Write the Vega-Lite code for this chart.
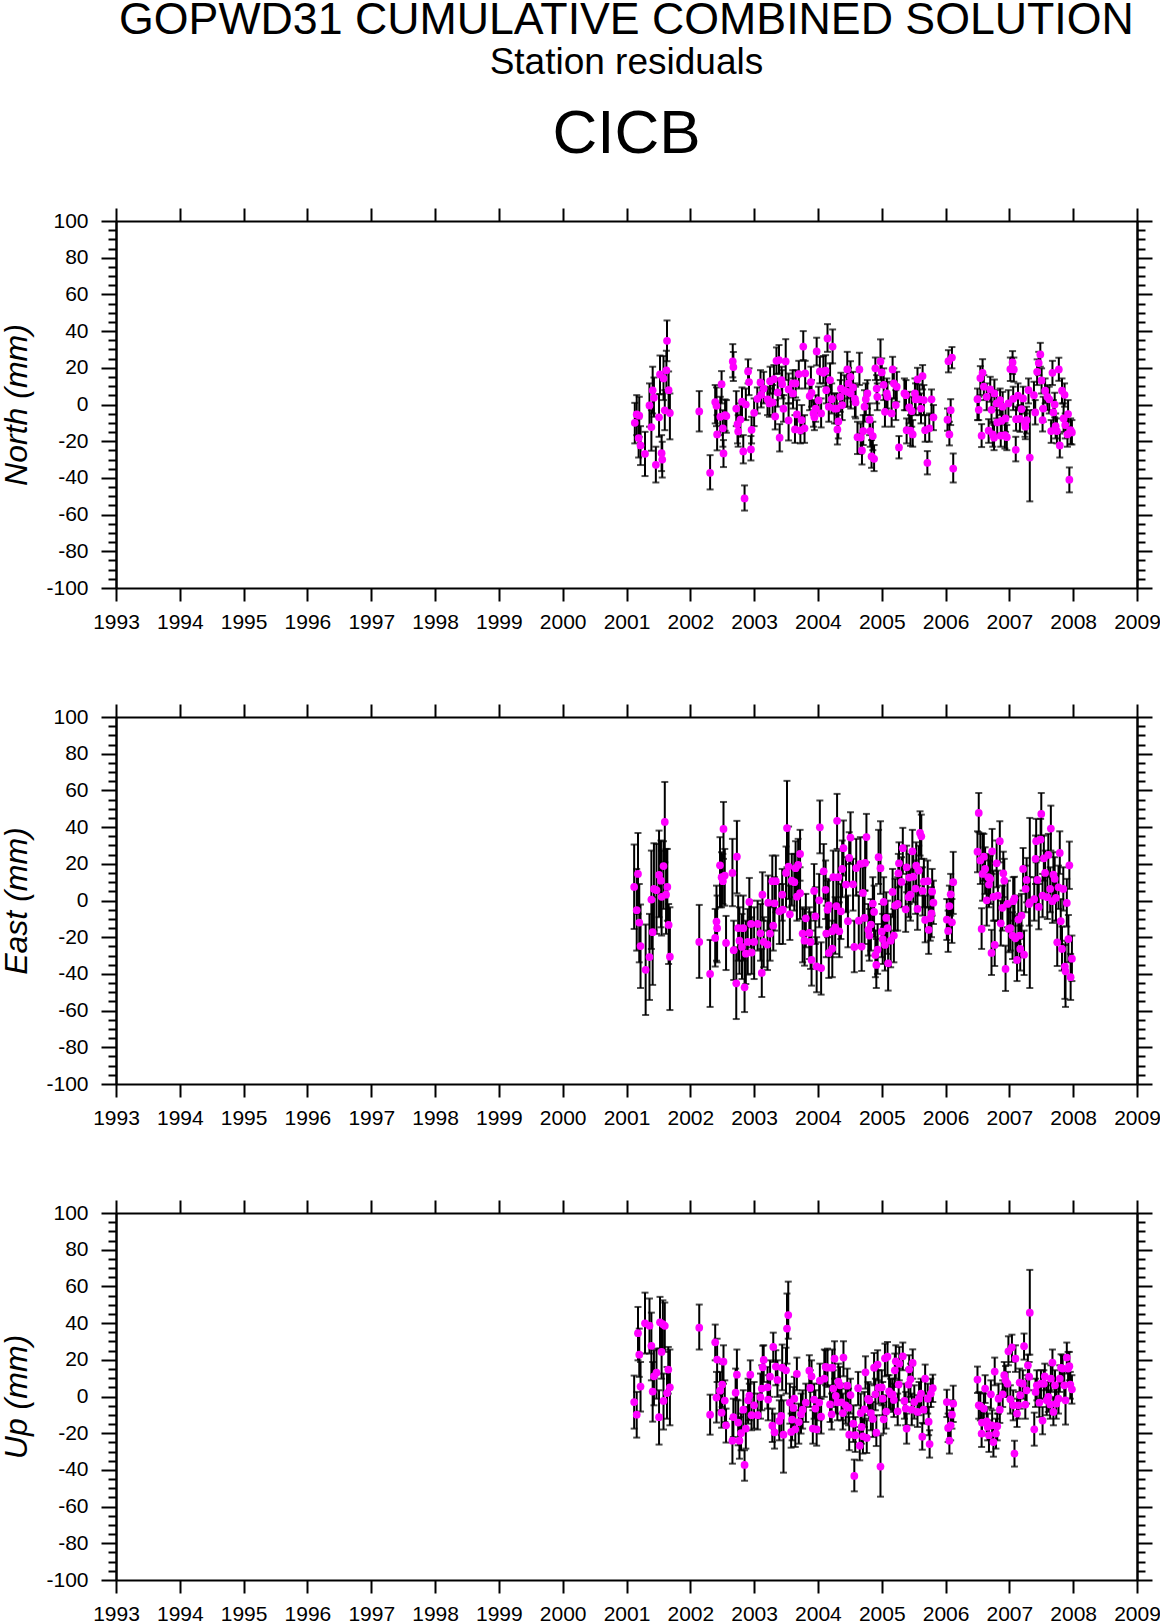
{
"$schema":"https://vega.github.io/schema/vega-lite/v6.json",
"background":"white",
"padding":{"left":0,"top":-2,"right":0,"bottom":0},
"bounds":"flush",
"spacing":129,
"title":{"text":"GOPWD31 CUMULATIVE COMBINED SOLUTION","subtitle":"Station residuals","font":"Liberation Sans","fontSize":44.7,"fontWeight":"normal","subtitleFont":"Liberation Sans","subtitleFontSize":37,"subtitlePadding":1,"anchor":"middle","dx":46,"offset":21,"color":"black","subtitleColor":"black"},
"config":{"view":{"stroke":null},"axis":{"grid":false,"domainColor":"black","domainWidth":2,"tickColor":"black","tickWidth":2,"labelFont":"Liberation Sans","labelFontSize":21,"labelColor":"black","titleFont":"Liberation Sans","titleFontSize":32,"titleFontStyle":"italic","titleFontWeight":"normal","titleColor":"black"}},
"datasets":{
"north":[
{"t":2001.13,"v":-10,"lo":-21.2,"hi":0.9},{"t":2001.16,"v":-5.4,"lo":-16.7,"hi":5.1},{"t":2001.2,"v":-6.1,"lo":-17.6,"hi":4.2},{"t":2001.19,"v":-18.3,"lo":-28.9,"hi":-7.6},{"t":2001.22,"v":-22.3,"lo":-33,"hi":-11.8},{"t":2001.29,"v":-26.9,"lo":-39,"hi":-14.9},{"t":2001.36,"v":-0.5,"lo":-12.1,"hi":11.5},{"t":2001.39,"v":-12.3,"lo":-25.2,"hi":-3.1},{"t":2001.41,"v":7.7,"lo":-4.9,"hi":20.6},{"t":2001.43,"v":3.7,"lo":-6.7,"hi":14.7},{"t":2001.46,"v":-32.9,"lo":-42.5,"hi":-23},{"t":2001.51,"v":-7,"lo":-17.6,"hi":5.5},{"t":2001.525,"v":16.4,"lo":5.7,"hi":26.7},{"t":2001.55,"v":-26.5,"lo":-36.3,"hi":-16.7},{"t":2001.56,"v":-30,"lo":-39.8,"hi":-20.3},{"t":2001.58,"v":14.2,"lo":2.4,"hi":26.4},{"t":2001.6,"v":-3.2,"lo":-14,"hi":7.8},{"t":2001.625,"v":18.6,"lo":7.8,"hi":29.3},{"t":2001.635,"v":34.7,"lo":23.6,"hi":45.8},{"t":2001.66,"v":7.8,"lo":-3.1,"hi":18},{"t":2001.68,"v":-4.7,"lo":-19,"hi":6},
{"t":2002.14,"v":-3.8,"lo":-14.7,"hi":7.3},{"t":2002.31,"v":-37.2,"lo":-46.3,"hi":-27.6},{"t":2002.39,"v":1.3,"lo":-10.3,"hi":10.6},{"t":2002.41,"v":-0.7,"lo":-11.8,"hi":9.3},{"t":2002.42,"v":-16.3,"lo":-25,"hi":-5.8},{"t":2002.47,"v":-6.7,"lo":-16.7,"hi":4.2},{"t":2002.49,"v":11.1,"lo":0.6,"hi":18.2},{"t":2002.51,"v":-13,"lo":-23,"hi":-3.1},{"t":2002.52,"v":-26.7,"lo":-34.1,"hi":-19.4},{"t":2002.545,"v":-5.8,"lo":-14.3,"hi":2.8},{"t":2002.565,"v":-6.3,"lo":-15.4,"hi":2.4},{"t":2002.665,"v":23.5,"lo":14.8,"hi":32.9},{"t":2002.675,"v":20.4,"lo":12.8,"hi":28.6},{"t":2002.72,"v":-2.2,"lo":-11.8,"hi":7.3},{"t":2002.74,"v":-10.7,"lo":-21.2,"hi":-2.2},{"t":2002.75,"v":-14.7,"lo":-23,"hi":-5.8},{"t":2002.785,"v":-8.2,"lo":-17.6,"hi":0.6},{"t":2002.81,"v":1.5,"lo":-7.8,"hi":9.3},{"t":2002.83,"v":-25.6,"lo":-32.1,"hi":-16.7},{"t":2002.85,"v":-51.2,"lo":-57.8,"hi":-44.1},{"t":2002.87,"v":0,"lo":-8.5,"hi":8.7},{"t":2002.905,"v":18,"lo":11.5,"hi":24.6},{"t":2002.92,"v":12.2,"lo":5.1,"hi":19.7},{"t":2002.95,"v":-24.5,"lo":-30.5,"hi":-17.2},{"t":2002.96,"v":-13.8,"lo":-21.2,"hi":-6.7},{"t":2003,"v":-4.5,"lo":-11.8,"hi":3.3},{"t":2003.05,"v":3.1,"lo":-4.9,"hi":9.3},{"t":2003.1,"v":12,"lo":5.1,"hi":18.7},{"t":2003.11,"v":5.3,"lo":-1.6,"hi":13.3},{"t":2003.15,"v":8.7,"lo":0.6,"hi":17.8},{"t":2003.21,"v":2.8,"lo":-5.8,"hi":9.7},{"t":2003.24,"v":0.6,"lo":-6.7,"hi":8.7},{"t":2003.25,"v":12.7,"lo":6,"hi":20.6},{"t":2003.29,"v":1.1,"lo":-5.8,"hi":10.6},{"t":2003.31,"v":13.8,"lo":6,"hi":21.5},{"t":2003.33,"v":-6.5,"lo":-13.6,"hi":2.4},{"t":2003.35,"v":23.8,"lo":16.6,"hi":31.1},{"t":2003.37,"v":6.6,"lo":-1.2,"hi":14.2},{"t":2003.39,"v":24.2,"lo":16.9,"hi":32.4},{"t":2003.4,"v":-18.1,"lo":-25.6,"hi":-10.7},{"t":2003.43,"v":13.3,"lo":5.1,"hi":20.6},{"t":2003.44,"v":11.1,"lo":3.3,"hi":18.7},{"t":2003.46,"v":-2.3,"lo":-9.4,"hi":5.1},{"t":2003.495,"v":23.5,"lo":13.3,"hi":35.6},{"t":2003.54,"v":-8.7,"lo":-19.6,"hi":0.6},{"t":2003.54,"v":8.2,"lo":0.6,"hi":16.9},{"t":2003.61,"v":6,"lo":-2.2,"hi":14.2},{"t":2003.605,"v":11.5,"lo":3.8,"hi":18.7},{"t":2003.64,"v":-13.6,"lo":-20.9,"hi":-5.8},{"t":2003.65,"v":11.5,"lo":3.8,"hi":18.7},{"t":2003.67,"v":-5.4,"lo":-13,"hi":2.4},{"t":2003.7,"v":16.6,"lo":8.7,"hi":23.8},{"t":2003.725,"v":-14.1,"lo":-21.2,"hi":-6.7},{"t":2003.745,"v":-8.5,"lo":-15.8,"hi":-0.3},{"t":2003.77,"v":31.6,"lo":24.2,"hi":40},{"t":2003.79,"v":-13,"lo":-20.9,"hi":-5.8},{"t":2003.8,"v":16.9,"lo":8.7,"hi":23.8},{"t":2003.87,"v":4.6,"lo":-3.1,"hi":11.5},{"t":2003.89,"v":12.2,"lo":5.1,"hi":20.6},{"t":2003.9,"v":6.4,"lo":-1.2,"hi":13.3},{"t":2003.93,"v":-4.9,"lo":-12.1,"hi":2.4},{"t":2003.945,"v":-7,"lo":-14,"hi":1.5},{"t":2003.965,"v":-2.2,"lo":-9.4,"hi":5.1},{"t":2003.98,"v":28.9,"lo":21.3,"hi":36.4},{"t":2004.01,"v":2.2,"lo":-4.9,"hi":9.7},{"t":2004.03,"v":18,"lo":11.5,"hi":26},{"t":2004.05,"v":-4.9,"lo":-12.5,"hi":3.3},{"t":2004.085,"v":17.3,"lo":11.5,"hi":26.4},{"t":2004.12,"v":18.4,"lo":10,"hi":26.9},{"t":2004.13,"v":7.8,"lo":0.6,"hi":16},{"t":2004.15,"v":36,"lo":28.7,"hi":43.8},{"t":2004.17,"v":-1.2,"lo":-9.4,"hi":7.8},{"t":2004.19,"v":13.3,"lo":6,"hi":22.4},{"t":2004.23,"v":31.6,"lo":22.4,"hi":40.9},{"t":2004.215,"v":2.9,"lo":-4.9,"hi":11.5},{"t":2004.26,"v":-2.2,"lo":-10.3,"hi":6},{"t":2004.295,"v":-2.2,"lo":-10.3,"hi":6},{"t":2004.305,"v":-13.6,"lo":-21.8,"hi":-5.8},{"t":2004.32,"v":-9.2,"lo":-18.5,"hi":-0.9},{"t":2004.36,"v":8.7,"lo":0.6,"hi":17.3},{"t":2004.35,"v":4.2,"lo":-4,"hi":13.3},{"t":2004.38,"v":-0.3,"lo":-8.5,"hi":7.8},{"t":2004.415,"v":7.5,"lo":-1.2,"hi":16},{"t":2004.46,"v":19.1,"lo":11.5,"hi":28.7},{"t":2004.46,"v":6.9,"lo":-1.2,"hi":15.1},{"t":2004.51,"v":15.1,"lo":6,"hi":23.6},{"t":2004.48,"v":11.5,"lo":3.3,"hi":20},{"t":2004.515,"v":6,"lo":-2.2,"hi":14.2},{"t":2004.55,"v":9.3,"lo":1.5,"hi":17.8},{"t":2004.58,"v":3.1,"lo":-6.7,"hi":11.5},{"t":2004.59,"v":1.1,"lo":-7.6,"hi":9.7},{"t":2004.62,"v":-17.8,"lo":-27,"hi":-9.4},{"t":2004.65,"v":19.1,"lo":10.6,"hi":28.2},{"t":2004.67,"v":-18,"lo":-26.7,"hi":-10.3},{"t":2004.69,"v":-25,"lo":-32.7,"hi":-15.8},{"t":2004.71,"v":-14.5,"lo":-22.1,"hi":-5.8},{"t":2004.73,"v":-1.2,"lo":-9.4,"hi":7.8},{"t":2004.75,"v":2.9,"lo":-5.8,"hi":11.5},{"t":2004.775,"v":6,"lo":-2.2,"hi":13.3},{"t":2004.81,"v":-8.3,"lo":-16.7,"hi":0.6},{"t":2004.82,"v":-14.5,"lo":-23,"hi":-5.8},{"t":2004.84,"v":-28.3,"lo":-34.5,"hi":-19.4},{"t":2004.86,"v":-17.2,"lo":-24.9,"hi":-9.4},{"t":2004.88,"v":-29.6,"lo":-36.3,"hi":-22.1},{"t":2004.9,"v":19.7,"lo":13.3,"hi":25.6},{"t":2004.92,"v":8.7,"lo":0.6,"hi":16},{"t":2004.93,"v":4.2,"lo":-3.1,"hi":11.5},{"t":2004.98,"v":23.5,"lo":13.3,"hi":35.5},{"t":2005,"v":17.5,"lo":9.7,"hi":25.1},{"t":2005.03,"v":10.7,"lo":2.4,"hi":19.7},{"t":2005.05,"v":-4,"lo":-12.1,"hi":5.1},{"t":2005.08,"v":6,"lo":-2.2,"hi":14.2},{"t":2005.09,"v":4.2,"lo":-4,"hi":12.4},{"t":2005.155,"v":-4.9,"lo":-12.1,"hi":3.3},{"t":2005.17,"v":19.1,"lo":11.5,"hi":26},{"t":2005.19,"v":11.5,"lo":3.3,"hi":19.7},{"t":2005.235,"v":9.7,"lo":1.5,"hi":17.8},{"t":2005.22,"v":-0.3,"lo":-8.5,"hi":7.8},{"t":2005.27,"v":-23.4,"lo":-29.4,"hi":-17.2},
{"t":2005.355,"v":6,"lo":-3.1,"hi":14.2},{"t":2005.38,"v":5.1,"lo":-3.1,"hi":13.3},{"t":2005.39,"v":-14,"lo":-21.2,"hi":-7.6},{"t":2005.43,"v":-1.6,"lo":-10.3,"hi":6.9},{"t":2005.47,"v":-3.6,"lo":-12.1,"hi":4.2},{"t":2005.45,"v":-14.3,"lo":-22.5,"hi":-5.8},{"t":2005.485,"v":-16.3,"lo":-23,"hi":-8.5},{"t":2005.52,"v":6,"lo":-2.2,"hi":14.2},{"t":2005.53,"v":2.8,"lo":-5.8,"hi":11.5},{"t":2005.56,"v":13.7,"lo":6,"hi":20},{"t":2005.59,"v":2.8,"lo":-5.8,"hi":11},{"t":2005.615,"v":-2.2,"lo":-10.3,"hi":6},{"t":2005.64,"v":15.5,"lo":8.2,"hi":21.5},{"t":2005.66,"v":2.4,"lo":-5.8,"hi":10.6},{"t":2005.68,"v":-14,"lo":-20.3,"hi":-5.8},{"t":2005.715,"v":-31.8,"lo":-38.1,"hi":-25.4},{"t":2005.745,"v":-13,"lo":-20.3,"hi":-4.9},{"t":2005.78,"v":2.8,"lo":-5.8,"hi":8.2},{"t":2005.81,"v":-7,"lo":-14,"hi":-0.3},
{"t":2006.03,"v":-8.3,"lo":-14.3,"hi":-2.2},{"t":2006.045,"v":23.6,"lo":17.5,"hi":29.6},{"t":2006.06,"v":-16.3,"lo":-22.3,"hi":-9.4},{"t":2006.08,"v":-3.1,"lo":-11.2,"hi":2.9},{"t":2006.1,"v":25.6,"lo":19.7,"hi":31.3},{"t":2006.12,"v":-34.9,"lo":-42.5,"hi":-26.7},
{"t":2006.5,"v":2.9,"lo":-8.5,"hi":8.7},{"t":2006.52,"v":-2.9,"lo":-8.5,"hi":4.2},{"t":2006.545,"v":14.4,"lo":5.1,"hi":20.9},{"t":2006.565,"v":-17,"lo":-23.2,"hi":-10.7},{"t":2006.58,"v":17.3,"lo":8.7,"hi":24.7},{"t":2006.6,"v":9.7,"lo":2.4,"hi":16},{"t":2006.645,"v":4.2,"lo":-3.1,"hi":11.5},{"t":2006.675,"v":-14.3,"lo":-20.9,"hi":-8},{"t":2006.7,"v":8.2,"lo":1.5,"hi":15.1},{"t":2006.72,"v":-2.9,"lo":-10.3,"hi":4.2},{"t":2006.74,"v":-16.3,"lo":-23,"hi":-9.4},{"t":2006.765,"v":6,"lo":-1.2,"hi":13.6},{"t":2006.76,"v":-18.1,"lo":-24.9,"hi":-11.2},{"t":2006.8,"v":0.6,"lo":-7.6,"hi":7.8},{"t":2006.81,"v":-9.8,"lo":-16.7,"hi":-3.1},{"t":2006.855,"v":2.4,"lo":-5.8,"hi":8.7},{"t":2006.865,"v":-17,"lo":-23,"hi":-9.4},{"t":2006.88,"v":-8.9,"lo":-15.8,"hi":-1.2},{"t":2006.895,"v":-1.2,"lo":-8.5,"hi":6.9},{"t":2006.93,"v":-16.7,"lo":-24,"hi":-10},{"t":2006.94,"v":-7.6,"lo":-14.9,"hi":-0.3},{"t":2006.96,"v":-17.8,"lo":-24.9,"hi":-11.2},{"t":2006.985,"v":0.6,"lo":-6.7,"hi":7.8},{"t":2007.015,"v":19.3,"lo":12.8,"hi":25.6},{"t":2007.05,"v":22.9,"lo":16.6,"hi":29.1},{"t":2007.07,"v":19.1,"lo":12.4,"hi":25.6},{"t":2007.06,"v":3.1,"lo":-3.1,"hi":9.7},{"t":2007.1,"v":-24.7,"lo":-31,"hi":-17.6},{"t":2007.105,"v":-8,"lo":-14.3,"hi":-1.2},{"t":2007.135,"v":4.8,"lo":-3.1,"hi":11.5},{"t":2007.165,"v":-7.8,"lo":-14.9,"hi":-0.3},{"t":2007.19,"v":-2.5,"lo":-9.4,"hi":4.2},{"t":2007.215,"v":3.3,"lo":-4,"hi":9.7},{"t":2007.245,"v":-10.3,"lo":-17.6,"hi":-3.1},{"t":2007.25,"v":-12.1,"lo":-18.9,"hi":-4.9},{"t":2007.27,"v":-8.5,"lo":-15.8,"hi":-1.2},{"t":2007.3,"v":7.8,"lo":0.6,"hi":14.2},{"t":2007.32,"v":-28.9,"lo":-52.8,"hi":-3.1},{"t":2007.385,"v":5.1,"lo":-3.1,"hi":12.4},{"t":2007.405,"v":-4.3,"lo":-10.9,"hi":2.4},{"t":2007.435,"v":17.8,"lo":10.6,"hi":24.6},{"t":2007.46,"v":22.6,"lo":16,"hi":28.7},{"t":2007.485,"v":27.3,"lo":20.6,"hi":33.6},{"t":2007.505,"v":13.1,"lo":6,"hi":19.7},{"t":2007.52,"v":-8.5,"lo":-14.7,"hi":-2.2},{"t":2007.53,"v":-2.2,"lo":-9.4,"hi":4.2},{"t":2007.56,"v":7.5,"lo":0.6,"hi":14.2},{"t":2007.595,"v":4.2,"lo":-3.1,"hi":10.6},{"t":2007.625,"v":2.8,"lo":-4.9,"hi":9.7},{"t":2007.655,"v":-14.5,"lo":-20.9,"hi":-8.5},{"t":2007.675,"v":17.3,"lo":10.6,"hi":23.8},{"t":2007.69,"v":-4.3,"lo":-10.3,"hi":2.4},{"t":2007.71,"v":0,"lo":-7,"hi":6.4},{"t":2007.725,"v":-11.8,"lo":-18.5,"hi":-4.9},{"t":2007.745,"v":-14.5,"lo":-21.2,"hi":-7.6},{"t":2007.775,"v":19.1,"lo":12.9,"hi":25.5},{"t":2007.79,"v":-22.3,"lo":-28.9,"hi":-15.8},{"t":2007.825,"v":7.5,"lo":0.6,"hi":14.2},{"t":2007.85,"v":-7.6,"lo":-14.9,"hi":0.6},{"t":2007.865,"v":5.3,"lo":-1.2,"hi":11.5},{"t":2007.875,"v":-11.2,"lo":-18.5,"hi":-4.9},{"t":2007.91,"v":-16.3,"lo":-23,"hi":-9.4},{"t":2007.92,"v":-5.2,"lo":-12.1,"hi":2.4},{"t":2007.94,"v":-41,"lo":-47.9,"hi":-34.3},{"t":2007.96,"v":-14,"lo":-21.6,"hi":-7.6},{"t":2007.98,"v":-15.2,"lo":-21.8,"hi":-8.5}
],
"east":[
{"t":2001.12,"v":7.4,"lo":-15.5,"hi":30.5},{"t":2001.18,"v":14.5,"lo":-7.3,"hi":36.8},{"t":2001.16,"v":-5.3,"lo":-27.3,"hi":17.2},{"t":2001.2,"v":-12,"lo":-33.7,"hi":9},{"t":2001.22,"v":-24.8,"lo":-47.7,"hi":-2.2},{"t":2001.3,"v":-37.8,"lo":-62.4,"hi":-13.1},{"t":2001.36,"v":-30.8,"lo":-54.2,"hi":-7.3},{"t":2001.39,"v":0.5,"lo":-26.4,"hi":27.2},{"t":2001.41,"v":-17.3,"lo":-46,"hi":1.8},{"t":2001.43,"v":6.3,"lo":-16.4,"hi":31.2},{"t":2001.47,"v":5.6,"lo":-18.2,"hi":30.8},{"t":2001.51,"v":13.9,"lo":-9.1,"hi":38.1},{"t":2001.54,"v":10.8,"lo":-14.6,"hi":32.7},{"t":2001.55,"v":2,"lo":-19.1,"hi":27.2},{"t":2001.58,"v":18.8,"lo":-4.6,"hi":32.3},{"t":2001.6,"v":42.8,"lo":20.8,"hi":64.6},{"t":2001.62,"v":3.2,"lo":-18.2,"hi":28.1},{"t":2001.64,"v":7.4,"lo":-11,"hi":28.1},{"t":2001.66,"v":-13.3,"lo":-34.6,"hi":-1.9},{"t":2001.68,"v":-30.6,"lo":-59.7,"hi":-3.7},
{"t":2002.14,"v":-22.6,"lo":-42.2,"hi":-2.4},{"t":2002.31,"v":-40,"lo":-58,"hi":-21.5},{"t":2002.39,"v":-20.4,"lo":-36,"hi":-4.6},{"t":2002.41,"v":-11.5,"lo":-32.8,"hi":8.1},{"t":2002.42,"v":-15.1,"lo":-33.7,"hi":2.7},{"t":2002.465,"v":19.2,"lo":-3.7,"hi":34.5},{"t":2002.49,"v":12.7,"lo":-3.7,"hi":26.3},{"t":2002.51,"v":10.5,"lo":-1.9,"hi":25.4},{"t":2002.52,"v":39,"lo":22.7,"hi":53.7},{"t":2002.54,"v":13.6,"lo":-2.8,"hi":28.1},{"t":2002.56,"v":-23.1,"lo":-37.9,"hi":-8.4},{"t":2002.66,"v":15,"lo":-3.1,"hi":33.6},{"t":2002.68,"v":-27.1,"lo":-43.3,"hi":-11},{"t":2002.72,"v":-45.1,"lo":-64.6,"hi":-25.5},{"t":2002.73,"v":23.9,"lo":3.9,"hi":43.4},{"t":2002.75,"v":-15,"lo":-32.8,"hi":2.7},{"t":2002.77,"v":-21.9,"lo":-40,"hi":-3.7},{"t":2002.81,"v":-25.3,"lo":-42.8,"hi":-7.3},{"t":2002.83,"v":-15.1,"lo":-32.8,"hi":2.7},{"t":2002.85,"v":-47.3,"lo":-60.8,"hi":-29.1},{"t":2002.87,"v":-29,"lo":-45.5,"hi":-11},{"t":2002.9,"v":-22.6,"lo":-40.4,"hi":-4.6},{"t":2002.925,"v":-0.8,"lo":-14.6,"hi":12.3},{"t":2002.95,"v":-12.8,"lo":-25.5,"hi":-0.1},{"t":2002.96,"v":-28.4,"lo":-40,"hi":-9.1},{"t":2003,"v":-22.6,"lo":-42.8,"hi":-3.7},{"t":2003.055,"v":-12.8,"lo":-27.3,"hi":-0.1},{"t":2003.1,"v":-17.9,"lo":-32.8,"hi":-1.9},{"t":2003.12,"v":-39.5,"lo":-52.6,"hi":-26.4},{"t":2003.13,"v":3.2,"lo":-11,"hi":15.4},{"t":2003.15,"v":-22.6,"lo":-36.4,"hi":-9.1},{"t":2003.21,"v":-24,"lo":-37.9,"hi":-11},{"t":2003.22,"v":-1.2,"lo":-16.4,"hi":13.6},{"t":2003.25,"v":-18,"lo":-32.8,"hi":-2.8},{"t":2003.285,"v":10.5,"lo":-3.7,"hi":24.5},{"t":2003.3,"v":-13.7,"lo":-27.3,"hi":-1},{"t":2003.32,"v":-1.5,"lo":-16.4,"hi":12.7},{"t":2003.34,"v":10.5,"lo":-6.4,"hi":24.5},{"t":2003.395,"v":-5.9,"lo":-23.7,"hi":9},{"t":2003.44,"v":3.2,"lo":-11,"hi":17.2},{"t":2003.45,"v":-5,"lo":-23.7,"hi":9},{"t":2003.5,"v":15,"lo":-3.7,"hi":29.4},{"t":2003.515,"v":39.5,"lo":18.1,"hi":65.2},{"t":2003.54,"v":18.5,"lo":0.8,"hi":40.3},{"t":2003.56,"v":-7.5,"lo":-21.5,"hi":8.1},{"t":2003.59,"v":10.8,"lo":-2.8,"hi":25.4},{"t":2003.63,"v":10,"lo":-5.5,"hi":25.4},{"t":2003.65,"v":17.6,"lo":1.8,"hi":32.3},{"t":2003.67,"v":2.1,"lo":-11,"hi":17.2},{"t":2003.69,"v":19.4,"lo":5.4,"hi":33.6},{"t":2003.72,"v":25.4,"lo":10.8,"hi":38.5},{"t":2003.72,"v":4,"lo":-10.1,"hi":18.1},{"t":2003.76,"v":-18,"lo":-33.7,"hi":-3.7},{"t":2003.79,"v":-21.9,"lo":-35.5,"hi":-4.6},{"t":2003.81,"v":-9.7,"lo":-25.5,"hi":3.6},{"t":2003.865,"v":-17.7,"lo":-31.9,"hi":-3.7},{"t":2003.885,"v":-22.6,"lo":-37.3,"hi":-6.4},{"t":2003.9,"v":-32.4,"lo":-46.4,"hi":-16.4},{"t":2003.94,"v":5.2,"lo":-11,"hi":19.9},{"t":2003.96,"v":-8.6,"lo":-23.7,"hi":7.2},{"t":2003.98,"v":-35.9,"lo":-50,"hi":-20},{"t":2004.02,"v":0.1,"lo":-14.6,"hi":14.5},{"t":2004.03,"v":39.9,"lo":25.7,"hi":54.5},{"t":2004.05,"v":-36.8,"lo":-51.3,"hi":-22.8},{"t":2004.09,"v":15.9,"lo":0.8,"hi":30.8},{"t":2004.12,"v":5.8,"lo":-10.1,"hi":21.8},{"t":2004.13,"v":-18,"lo":-30.9,"hi":-2.8},{"t":2004.15,"v":-5.1,"lo":-20,"hi":10.8},{"t":2004.17,"v":-28.6,"lo":-42.2,"hi":-14.6},{"t":2004.17,"v":-2.6,"lo":-17.3,"hi":11.8},{"t":2004.225,"v":-16.8,"lo":-30.9,"hi":-1.9},{"t":2004.225,"v":-26.2,"lo":-41.8,"hi":-11},{"t":2004.24,"v":12.7,"lo":-1.9,"hi":27.2},{"t":2004.27,"v":-14.6,"lo":-29.1,"hi":1.8},{"t":2004.29,"v":-3.1,"lo":-18.2,"hi":12.7},{"t":2004.3,"v":43.4,"lo":28.1,"hi":58.1},{"t":2004.32,"v":12.7,"lo":-1.9,"hi":27.2},{"t":2004.335,"v":-16.8,"lo":-30.9,"hi":-1},{"t":2004.36,"v":-5.9,"lo":-21,"hi":9},{"t":2004.38,"v":17.2,"lo":1.8,"hi":32.7},{"t":2004.4,"v":28.5,"lo":13.6,"hi":43.6},{"t":2004.44,"v":8.7,"lo":-6.4,"hi":23.6},{"t":2004.47,"v":-11.3,"lo":-25.5,"hi":2.7},{"t":2004.49,"v":23.2,"lo":9,"hi":37.2},{"t":2004.51,"v":34.3,"lo":19.9,"hi":48.1},{"t":2004.55,"v":8.8,"lo":-5.5,"hi":22.7},{"t":2004.57,"v":-25.3,"lo":-39.1,"hi":-11},{"t":2004.6,"v":17.7,"lo":2.7,"hi":33.6},{"t":2004.64,"v":-11,"lo":-25.5,"hi":2.7},{"t":2004.665,"v":19.9,"lo":4.5,"hi":34.5},{"t":2004.685,"v":-25.1,"lo":-38.4,"hi":-11},{"t":2004.705,"v":4.1,"lo":-11,"hi":18.1},{"t":2004.73,"v":-9.5,"lo":-23.7,"hi":5.4},{"t":2004.74,"v":20.5,"lo":5.4,"hi":34.5},{"t":2004.76,"v":34.6,"lo":20.8,"hi":47.2},{"t":2004.79,"v":-16,"lo":-30,"hi":-1.9},{"t":2004.805,"v":-19.1,"lo":-32.8,"hi":-4.6},{"t":2004.83,"v":-13.1,"lo":-27.3,"hi":0.8},{"t":2004.86,"v":-1.7,"lo":-16.4,"hi":12.7},{"t":2004.88,"v":-6.2,"lo":-20,"hi":8.1},{"t":2004.9,"v":-29.7,"lo":-41.8,"hi":-16.4},{"t":2004.915,"v":-35.1,"lo":-47.7,"hi":-21},{"t":2004.935,"v":-26.8,"lo":-40,"hi":-12.8},{"t":2004.95,"v":23.6,"lo":9,"hi":38.5},{"t":2004.98,"v":17.6,"lo":3.6,"hi":43.2},{"t":2005,"v":-17,"lo":-30.9,"hi":-1.9},{"t":2005.015,"v":-21,"lo":-34.6,"hi":-7.3},{"t":2005.03,"v":-0.8,"lo":-14.6,"hi":12.7},{"t":2005.05,"v":-24.2,"lo":-38.2,"hi":-9.1},{"t":2005.07,"v":-9.5,"lo":-23.7,"hi":4.5},{"t":2005.09,"v":-15,"lo":-29.1,"hi":-0.1},{"t":2005.1,"v":-34.2,"lo":-49.1,"hi":-21.9},{"t":2005.14,"v":-21.9,"lo":-36.4,"hi":-7.3},{"t":2005.17,"v":4.7,"lo":-9.1,"hi":17.2},{"t":2005.19,"v":-19.1,"lo":-33.7,"hi":-4.6},{"t":2005.21,"v":-2.8,"lo":-16.4,"hi":11.8},{"t":2005.25,"v":-1.9,"lo":-16.4,"hi":12.7},{"t":2005.26,"v":14.8,"lo":-0.1,"hi":25.4},{"t":2005.27,"v":20.3,"lo":7.2,"hi":31.7},
{"t":2005.31,"v":10.1,"lo":-3.7,"hi":23.6},{"t":2005.33,"v":28.5,"lo":14.5,"hi":39.6},{"t":2005.375,"v":-4.8,"lo":-17.1,"hi":9},{"t":2005.39,"v":18.1,"lo":4.5,"hi":29.9},{"t":2005.42,"v":1.8,"lo":-9.1,"hi":16.3},{"t":2005.43,"v":12.5,"lo":-1.9,"hi":25.4},{"t":2005.45,"v":3.2,"lo":-11,"hi":17.2},{"t":2005.48,"v":26.8,"lo":13.6,"hi":38.5},{"t":2005.495,"v":13,"lo":-1,"hi":27.2},{"t":2005.53,"v":6.5,"lo":-7.3,"hi":21.8},{"t":2005.54,"v":19,"lo":5.4,"hi":31.7},{"t":2005.56,"v":-4.6,"lo":-16,"hi":8.1},{"t":2005.58,"v":16.3,"lo":2.7,"hi":29.9},{"t":2005.6,"v":36.8,"lo":24.5,"hi":48.6},{"t":2005.62,"v":35,"lo":22.7,"hi":46.8},{"t":2005.64,"v":5.2,"lo":-8.2,"hi":18.1},{"t":2005.66,"v":10.3,"lo":-3.7,"hi":22.7},{"t":2005.68,"v":-10.6,"lo":-22.8,"hi":2.7},{"t":2005.72,"v":10.5,"lo":-3.7,"hi":21.8},{"t":2005.735,"v":-16,"lo":-29.1,"hi":-3.7},{"t":2005.76,"v":-9.7,"lo":-21.9,"hi":3.6},{"t":2005.78,"v":-7,"lo":-20,"hi":7.2},{"t":2005.79,"v":4.8,"lo":-8.2,"hi":17.2},{"t":2005.81,"v":-1.2,"lo":-12.8,"hi":10.8},
{"t":2006.02,"v":-10.4,"lo":-21.5,"hi":0.8},{"t":2006.04,"v":-16.6,"lo":-28,"hi":-5.5},{"t":2006.06,"v":-3,"lo":-14.6,"hi":8.1},{"t":2006.08,"v":3.4,"lo":-8.2,"hi":14.5},{"t":2006.1,"v":-11.9,"lo":-23.1,"hi":0.8},{"t":2006.12,"v":10,"lo":-7.3,"hi":26.5},
{"t":2006.5,"v":26.6,"lo":15.4,"hi":37.7},{"t":2006.52,"v":47.7,"lo":37.2,"hi":58.6},{"t":2006.545,"v":21.8,"lo":9,"hi":36.3},{"t":2006.565,"v":-15.5,"lo":-26.4,"hi":-4.2},{"t":2006.58,"v":14.5,"lo":-0.1,"hi":36.6},{"t":2006.6,"v":23.9,"lo":10.8,"hi":36.3},{"t":2006.62,"v":17.2,"lo":3.6,"hi":29},{"t":2006.645,"v":0.1,"lo":-13.7,"hi":14.5},{"t":2006.67,"v":12.7,"lo":-1,"hi":25.4},{"t":2006.68,"v":8.7,"lo":-3.7,"hi":21.8},{"t":2006.7,"v":11.8,"lo":-1.9,"hi":24.5},{"t":2006.72,"v":-28.6,"lo":-40.6,"hi":-16},{"t":2006.73,"v":26.8,"lo":14.5,"hi":39},{"t":2006.75,"v":2,"lo":-11,"hi":16.3},{"t":2006.77,"v":-24.2,"lo":-35.7,"hi":-11},{"t":2006.8,"v":20.3,"lo":7.2,"hi":32.7},{"t":2006.82,"v":2.7,"lo":-11,"hi":16.3},{"t":2006.85,"v":32.3,"lo":20.8,"hi":43.2},{"t":2006.865,"v":-12.4,"lo":-24.6,"hi":-0.1},{"t":2006.89,"v":-4,"lo":-16.4,"hi":8.1},{"t":2006.905,"v":14.8,"lo":1.8,"hi":26.6},{"t":2006.92,"v":10.8,"lo":-1,"hi":22.7},{"t":2006.94,"v":-37.3,"lo":-49.3,"hi":-24.6},{"t":2006.97,"v":-1.9,"lo":-14.6,"hi":10.8},{"t":2006.99,"v":-15.5,"lo":-28.2,"hi":-3.7},{"t":2007.015,"v":-15.1,"lo":-27.3,"hi":-2.8},{"t":2007.05,"v":-19.1,"lo":-31.9,"hi":-6.4},{"t":2007.06,"v":-0.4,"lo":-13.7,"hi":12.7},{"t":2007.08,"v":1.2,"lo":-11,"hi":12.9},{"t":2007.095,"v":-20.6,"lo":-33.7,"hi":-8.2},{"t":2007.12,"v":-32.4,"lo":-43.9,"hi":-20},{"t":2007.14,"v":-10.4,"lo":-23.7,"hi":2.7},{"t":2007.16,"v":-19.1,"lo":-30.9,"hi":-7.3},{"t":2007.17,"v":-26.4,"lo":-38.2,"hi":-13.7},{"t":2007.19,"v":-8.2,"lo":-21,"hi":3.6},{"t":2007.215,"v":17.2,"lo":5.4,"hi":28.6},{"t":2007.23,"v":-29.5,"lo":-40.6,"hi":-16.4},{"t":2007.255,"v":6.3,"lo":-6.4,"hi":19},{"t":2007.27,"v":11.2,"lo":-1,"hi":23.2},{"t":2007.31,"v":-1.9,"lo":-13.7,"hi":12.7},{"t":2007.32,"v":-1,"lo":-47.7,"hi":45},{"t":2007.39,"v":0.8,"lo":-11,"hi":12.7},{"t":2007.41,"v":22.7,"lo":9,"hi":35.4},{"t":2007.42,"v":32.3,"lo":20.8,"hi":44.5},{"t":2007.44,"v":11.2,"lo":-1.9,"hi":23.6},{"t":2007.46,"v":-3.5,"lo":-15.7,"hi":9},{"t":2007.49,"v":33.2,"lo":21.8,"hi":44.5},{"t":2007.5,"v":47.2,"lo":35.4,"hi":58.6},{"t":2007.52,"v":2.7,"lo":-9.1,"hi":14.5},{"t":2007.54,"v":23,"lo":10.8,"hi":35.4},{"t":2007.56,"v":15,"lo":2.7,"hi":27.2},{"t":2007.595,"v":1.8,"lo":-10.1,"hi":13.6},{"t":2007.61,"v":24.8,"lo":12.7,"hi":36.3},{"t":2007.64,"v":6.3,"lo":-6.4,"hi":18.1},{"t":2007.65,"v":39.2,"lo":27.2,"hi":51.7},{"t":2007.675,"v":-0.4,"lo":-12.2,"hi":11.8},{"t":2007.69,"v":14.1,"lo":1.8,"hi":26.3},{"t":2007.71,"v":11.8,"lo":-0.1,"hi":23.6},{"t":2007.73,"v":1.4,"lo":-11,"hi":13.6},{"t":2007.75,"v":-22.8,"lo":-35.7,"hi":-11},{"t":2007.77,"v":7.2,"lo":-4.6,"hi":19},{"t":2007.79,"v":25.9,"lo":14.5,"hi":37.7},{"t":2007.805,"v":-11.3,"lo":-23.7,"hi":0.8},{"t":2007.825,"v":-26.4,"lo":-38.2,"hi":-14.2},{"t":2007.845,"v":6.3,"lo":-5.5,"hi":18.1},{"t":2007.87,"v":-36,"lo":-53.6,"hi":-24.2},{"t":2007.88,"v":-38.6,"lo":-58,"hi":-21.9},{"t":2007.9,"v":-1.3,"lo":-14.2,"hi":11.8},{"t":2007.925,"v":-21,"lo":-33.7,"hi":-7.9},{"t":2007.94,"v":19.2,"lo":6.3,"hi":32.1},{"t":2007.96,"v":-41.8,"lo":-54.2,"hi":-29.1},{"t":2007.98,"v":-31.7,"lo":-43.9,"hi":-19.1}
],
"up":[
{"t":2001.12,"v":-3,"lo":-17.5,"hi":11.4},{"t":2001.16,"v":-9.9,"lo":-22.4,"hi":2.5},{"t":2001.18,"v":34.5,"lo":19.7,"hi":48.8},{"t":2001.2,"v":22.8,"lo":10.7,"hi":37},{"t":2001.22,"v":5.4,"lo":-8.2,"hi":18.8},{"t":2001.29,"v":39.9,"lo":23.4,"hi":56.6},{"t":2001.36,"v":38.6,"lo":23.4,"hi":53.4},{"t":2001.39,"v":27.6,"lo":8.8,"hi":45.7},{"t":2001.41,"v":2.7,"lo":-13.7,"hi":18.8},{"t":2001.43,"v":11,"lo":-4.8,"hi":25.2},{"t":2001.47,"v":13,"lo":-1.2,"hi":26.1},{"t":2001.51,"v":-11.3,"lo":-26.2,"hi":3.4},{"t":2001.525,"v":40.4,"lo":26.1,"hi":54.3},{"t":2001.55,"v":24.3,"lo":9.7,"hi":39.7},{"t":2001.57,"v":39.4,"lo":25.2,"hi":52.4},{"t":2001.58,"v":-2.4,"lo":-18,"hi":12.5},{"t":2001.6,"v":38.5,"lo":24.3,"hi":51.2},{"t":2001.635,"v":1.9,"lo":-12.1,"hi":16.1},{"t":2001.655,"v":14.7,"lo":1.6,"hi":27},{"t":2001.68,"v":5,"lo":-15.7,"hi":25.6},
{"t":2002.14,"v":37.5,"lo":25.6,"hi":50.1},{"t":2002.31,"v":-9.9,"lo":-20.8,"hi":1},{"t":2002.39,"v":29.5,"lo":19.7,"hi":39.2},{"t":2002.41,"v":-0.6,"lo":-14.2,"hi":13.4},{"t":2002.42,"v":20.1,"lo":7.9,"hi":31.5},{"t":2002.465,"v":3.2,"lo":-7.5,"hi":13.4},{"t":2002.49,"v":-8.8,"lo":-17,"hi":1.6},{"t":2002.5,"v":6.5,"lo":-5.7,"hi":17.9},{"t":2002.52,"v":19,"lo":7,"hi":27.9},{"t":2002.54,"v":-2.2,"lo":-13.9,"hi":8.8},{"t":2002.56,"v":-15.7,"lo":-25.1,"hi":-6.6},{"t":2002.66,"v":-24.1,"lo":-36.6,"hi":-12.1},{"t":2002.675,"v":-11.2,"lo":-22.1,"hi":-1.2},{"t":2002.71,"v":2.1,"lo":-11.2,"hi":15.2},{"t":2002.73,"v":11.9,"lo":-1.7,"hi":25.6},{"t":2002.75,"v":-14.2,"lo":-26.6,"hi":-2.1},{"t":2002.77,"v":-24.1,"lo":-33.9,"hi":-11.2},{"t":2002.795,"v":-20,"lo":-29.3,"hi":-9.3},{"t":2002.83,"v":-7.2,"lo":-18.4,"hi":3.4},{"t":2002.85,"v":-37.3,"lo":-45.9,"hi":-29.3},{"t":2002.87,"v":-17.5,"lo":-28.4,"hi":-5.7},{"t":2002.905,"v":-2.1,"lo":-14.8,"hi":9.7},{"t":2002.925,"v":0.5,"lo":-13,"hi":7},{"t":2002.94,"v":11.9,"lo":-0.2,"hi":19.7},{"t":2002.96,"v":-10.2,"lo":-18.4,"hi":1.6},{"t":2003,"v":-4.8,"lo":-17.5,"hi":7.9},{"t":2003.055,"v":-10.2,"lo":-18,"hi":1.6},{"t":2003.1,"v":-0.4,"lo":-12.1,"hi":12.5},{"t":2003.12,"v":4.3,"lo":-7.5,"hi":17},{"t":2003.135,"v":15.9,"lo":4.3,"hi":27.7},{"t":2003.15,"v":19.9,"lo":7.9,"hi":27.9},{"t":2003.21,"v":5,"lo":-6.6,"hi":16.1},{"t":2003.22,"v":-1.7,"lo":-13,"hi":11.6},{"t":2003.25,"v":10.8,"lo":-0.2,"hi":19.7},{"t":2003.285,"v":-15.9,"lo":-24.8,"hi":-6.6},{"t":2003.3,"v":27,"lo":18.8,"hi":34.8},{"t":2003.32,"v":-19.5,"lo":-28.4,"hi":-9.3},{"t":2003.34,"v":16.3,"lo":6.1,"hi":25.2},{"t":2003.365,"v":9,"lo":-0.2,"hi":19.7},{"t":2003.395,"v":-13.3,"lo":-23.9,"hi":-2.1},{"t":2003.425,"v":-10.6,"lo":-21.1,"hi":0.7},{"t":2003.44,"v":15.7,"lo":3.4,"hi":28.3},{"t":2003.46,"v":-20.8,"lo":-41.5,"hi":-2.1},{"t":2003.5,"v":14.3,"lo":1.6,"hi":26.6},{"t":2003.515,"v":37,"lo":17.9,"hi":56.1},{"t":2003.535,"v":44.4,"lo":31.5,"hi":62.6},{"t":2003.56,"v":-3.3,"lo":-14.8,"hi":7},{"t":2003.58,"v":-19.3,"lo":-27.9,"hi":-9.3},{"t":2003.595,"v":-12.6,"lo":-23.9,"hi":-0.2},{"t":2003.615,"v":-6.2,"lo":-16.6,"hi":5.2},{"t":2003.63,"v":-1.2,"lo":-13,"hi":10.7},{"t":2003.645,"v":-17.9,"lo":-27.5,"hi":-7.5},{"t":2003.67,"v":12.3,"lo":3.4,"hi":21.2},{"t":2003.7,"v":-13.9,"lo":-25.7,"hi":-3.9},{"t":2003.735,"v":-9.7,"lo":-20.2,"hi":1.6},{"t":2003.76,"v":-7.2,"lo":-17.5,"hi":3.4},{"t":2003.81,"v":-3.3,"lo":-13.9,"hi":7},{"t":2003.865,"v":14.1,"lo":5.2,"hi":22.5},{"t":2003.88,"v":4.7,"lo":-5.7,"hi":14.3},{"t":2003.9,"v":11,"lo":2.5,"hi":19.7},{"t":2003.92,"v":-17.5,"lo":-25.7,"hi":-7.5},{"t":2003.94,"v":-1.7,"lo":-12.1,"hi":7},{"t":2003.96,"v":-6.6,"lo":-16.6,"hi":3.4},{"t":2003.98,"v":-17.9,"lo":-26.8,"hi":-7.5},{"t":2004.02,"v":-3.3,"lo":-13,"hi":7},{"t":2004.03,"v":8.7,"lo":-1.2,"hi":17.9},{"t":2004.05,"v":-11,"lo":-20.2,"hi":-1.2},{"t":2004.1,"v":9.7,"lo":-0.2,"hi":25.6},{"t":2004.12,"v":16.1,"lo":6.1,"hi":25.2},{"t":2004.15,"v":15.7,"lo":5.2,"hi":26.1},{"t":2004.19,"v":-4.3,"lo":-13.9,"hi":6.1},{"t":2004.215,"v":-9.7,"lo":-18,"hi":1.6},{"t":2004.225,"v":15.7,"lo":4.3,"hi":25.6},{"t":2004.24,"v":4.3,"lo":-5.7,"hi":14.3},{"t":2004.26,"v":20.6,"lo":9.7,"hi":30.1},{"t":2004.28,"v":0.3,"lo":-9.3,"hi":9.7},{"t":2004.305,"v":-3.2,"lo":-13,"hi":7},{"t":2004.32,"v":8.1,"lo":-2.1,"hi":17.9},{"t":2004.345,"v":6.1,"lo":-3.9,"hi":16.1},{"t":2004.37,"v":-3.2,"lo":-13,"hi":7},{"t":2004.39,"v":-9,"lo":-18,"hi":1.6},{"t":2004.4,"v":21.2,"lo":11,"hi":30.1},{"t":2004.435,"v":-4.8,"lo":-14.8,"hi":4.3},{"t":2004.46,"v":5.9,"lo":-3.9,"hi":15.2},{"t":2004.48,"v":-6.1,"lo":-15.7,"hi":4.3},{"t":2004.49,"v":-20.8,"lo":-29.3,"hi":-11.2},{"t":2004.51,"v":0.8,"lo":-9.3,"hi":9.7},{"t":2004.555,"v":-14.8,"lo":-24.8,"hi":-4.8},{"t":2004.57,"v":-43.3,"lo":-51.7,"hi":-34.4},{"t":2004.585,"v":-21.1,"lo":-30.2,"hi":-11.2},{"t":2004.63,"v":4.5,"lo":-4.8,"hi":13.4},{"t":2004.655,"v":-26.8,"lo":-34.8,"hi":-16.6},{"t":2004.67,"v":-9,"lo":-18.4,"hi":1.6},{"t":2004.685,"v":-16.6,"lo":-25.7,"hi":-6.6},{"t":2004.705,"v":-21.7,"lo":-31.1,"hi":-12.1},{"t":2004.73,"v":-7,"lo":-16.6,"hi":2.5},{"t":2004.745,"v":13.2,"lo":4.3,"hi":21.9},{"t":2004.765,"v":-22.6,"lo":-30.8,"hi":-13},{"t":2004.785,"v":-1.3,"lo":-10.2,"hi":7.9},{"t":2004.805,"v":-2.1,"lo":-12.1,"hi":7},{"t":2004.83,"v":-9,"lo":-18.4,"hi":-0.2},{"t":2004.86,"v":-12.2,"lo":-22.1,"hi":-3},{"t":2004.88,"v":15.7,"lo":6.1,"hi":23.7},{"t":2004.9,"v":1.2,"lo":-7.5,"hi":9.7},{"t":2004.915,"v":-19.7,"lo":-27,"hi":-10.2},{"t":2004.935,"v":17.4,"lo":8.8,"hi":25.2},{"t":2004.95,"v":4.8,"lo":-3.9,"hi":14.3},{"t":2004.98,"v":-38.2,"lo":-54.6,"hi":-21.1},{"t":2005,"v":5,"lo":-4.8,"hi":14.3},{"t":2005.015,"v":-1.2,"lo":-10.2,"hi":7.9},{"t":2005.03,"v":-12.4,"lo":-20.2,"hi":-3},{"t":2005.05,"v":20.8,"lo":11,"hi":28.8},{"t":2005.07,"v":-8.2,"lo":-17.5,"hi":0.7},{"t":2005.09,"v":21.7,"lo":11.6,"hi":29.7},{"t":2005.115,"v":2.8,"lo":-6.6,"hi":11.6},{"t":2005.14,"v":1.2,"lo":-7.5,"hi":9.7},{"t":2005.17,"v":1.2,"lo":-8.4,"hi":9.7},{"t":2005.19,"v":-1.9,"lo":-11.2,"hi":7},{"t":2005.205,"v":14.3,"lo":5.2,"hi":23.4},{"t":2005.22,"v":19.2,"lo":9.7,"hi":27.9},{"t":2005.25,"v":-8.1,"lo":-15.7,"hi":1.6},{"t":2005.265,"v":6.5,"lo":-2.1,"hi":15.2},{"t":2005.275,"v":17.9,"lo":8.8,"hi":27},
{"t":2005.33,"v":21.9,"lo":14.3,"hi":29.4},{"t":2005.355,"v":-2.4,"lo":-12.1,"hi":7},{"t":2005.375,"v":-6.6,"lo":-15.7,"hi":2.5},{"t":2005.39,"v":-17.5,"lo":-25.7,"hi":-9.3},{"t":2005.42,"v":6.5,"lo":-3,"hi":15.2},{"t":2005.43,"v":14.8,"lo":6.1,"hi":22.5},{"t":2005.45,"v":9.4,"lo":-0.2,"hi":17.9},{"t":2005.47,"v":-7.2,"lo":-15.7,"hi":1.6},{"t":2005.485,"v":18.3,"lo":9.7,"hi":25.7},{"t":2005.51,"v":-3,"lo":-12.1,"hi":6.1},{"t":2005.56,"v":-8.4,"lo":-16.6,"hi":0.7},{"t":2005.585,"v":-1.2,"lo":-10.2,"hi":7.9},{"t":2005.615,"v":1.6,"lo":-7.5,"hi":9.7},{"t":2005.635,"v":-21.9,"lo":-29,"hi":-14.4},{"t":2005.655,"v":-7.2,"lo":-14.8,"hi":1.6},{"t":2005.68,"v":9.7,"lo":1.6,"hi":17.4},{"t":2005.72,"v":-1.2,"lo":-9.3,"hi":7},{"t":2005.735,"v":-13.7,"lo":-21.1,"hi":-5.7},{"t":2005.75,"v":-25.9,"lo":-33.3,"hi":-18.4},{"t":2005.77,"v":1.6,"lo":-5.7,"hi":9.7},{"t":2005.8,"v":4.5,"lo":-3,"hi":11.9},
{"t":2006.02,"v":-3,"lo":-11.2,"hi":3.7},{"t":2006.04,"v":-17.1,"lo":-24.8,"hi":-9.3},{"t":2006.06,"v":-24.1,"lo":-31.1,"hi":-16.6},{"t":2006.08,"v":-15.7,"lo":-23.9,"hi":-7.5},{"t":2006.1,"v":-9.9,"lo":-17.5,"hi":-2.1},{"t":2006.12,"v":-3.9,"lo":-13.9,"hi":5.9},
{"t":2006.5,"v":9.2,"lo":1.9,"hi":16.3},{"t":2006.52,"v":-4.8,"lo":-12.1,"hi":2.5},{"t":2006.545,"v":-5.3,"lo":-13,"hi":1.9},{"t":2006.565,"v":-20.2,"lo":-27.5,"hi":-12.1},{"t":2006.57,"v":-14.2,"lo":-21.1,"hi":-6.6},{"t":2006.6,"v":-6.6,"lo":-13.9,"hi":1.6},{"t":2006.62,"v":4.3,"lo":-3.5,"hi":11.6},{"t":2006.645,"v":-13.5,"lo":-21.1,"hi":-5.7},{"t":2006.66,"v":-16.6,"lo":-23.9,"hi":-9.3},{"t":2006.68,"v":-21.1,"lo":-30.2,"hi":-13},{"t":2006.71,"v":1.2,"lo":-6.6,"hi":8.8},{"t":2006.73,"v":-15.7,"lo":-23.9,"hi":-7.5},{"t":2006.75,"v":-24.8,"lo":-32.8,"hi":-16.6},{"t":2006.77,"v":13.6,"lo":6.1,"hi":21.2},{"t":2006.79,"v":-20.2,"lo":-28.4,"hi":-12.1},{"t":2006.81,"v":-16.2,"lo":-23.9,"hi":-9.3},{"t":2006.83,"v":-1.2,"lo":-9.3,"hi":7},{"t":2006.85,"v":-7.2,"lo":-14.4,"hi":0.7},{"t":2006.895,"v":1.2,"lo":-5.7,"hi":8.8},{"t":2006.92,"v":11.6,"lo":3.4,"hi":18.8},{"t":2006.94,"v":8.8,"lo":-0.2,"hi":16.6},{"t":2006.97,"v":7,"lo":-0.2,"hi":13.4},{"t":2006.985,"v":24.6,"lo":17,"hi":32.8},{"t":2007.015,"v":-1.5,"lo":-9.3,"hi":6.1},{"t":2007.04,"v":26.8,"lo":18.8,"hi":33.7},{"t":2007.06,"v":-4.8,"lo":-13,"hi":3.4},{"t":2007.08,"v":-31.1,"lo":-38.2,"hi":-24.1},{"t":2007.095,"v":20.6,"lo":13.4,"hi":27.9},{"t":2007.12,"v":-9.3,"lo":-16.6,"hi":-1.2},{"t":2007.14,"v":-4.8,"lo":-12.1,"hi":2.5},{"t":2007.16,"v":7.6,"lo":-0.2,"hi":15.2},{"t":2007.17,"v":0.7,"lo":-6.6,"hi":7.9},{"t":2007.21,"v":7,"lo":-1.2,"hi":14.3},{"t":2007.23,"v":27.4,"lo":20.1,"hi":34.3},{"t":2007.25,"v":-4.4,"lo":-12.1,"hi":3.4},{"t":2007.27,"v":3.4,"lo":-3.9,"hi":11.6},{"t":2007.29,"v":17,"lo":9.7,"hi":22.8},{"t":2007.31,"v":10.8,"lo":3.4,"hi":18.8},{"t":2007.32,"v":45.7,"lo":22.8,"hi":69},{"t":2007.39,"v":-17.9,"lo":-26.8,"hi":-8.8},{"t":2007.41,"v":2.5,"lo":-5.7,"hi":9.7},{"t":2007.43,"v":6.1,"lo":-2.1,"hi":14.3},{"t":2007.47,"v":-3.3,"lo":-11.2,"hi":5.2},{"t":2007.495,"v":7,"lo":-1.2,"hi":14.3},{"t":2007.52,"v":-13.1,"lo":-20.6,"hi":-5.7},{"t":2007.54,"v":7,"lo":-1.2,"hi":14.3},{"t":2007.555,"v":11,"lo":3.4,"hi":17.9},{"t":2007.585,"v":-2.1,"lo":-10.2,"hi":6.1},{"t":2007.61,"v":-0.2,"lo":-8.4,"hi":7.9},{"t":2007.64,"v":-4.3,"lo":-12.1,"hi":3.4},{"t":2007.65,"v":9.7,"lo":2.5,"hi":17},{"t":2007.675,"v":18.5,"lo":10.7,"hi":25.6},{"t":2007.69,"v":-8.4,"lo":-15.7,"hi":-0.2},{"t":2007.715,"v":6.1,"lo":-1.2,"hi":14.3},{"t":2007.735,"v":-3.9,"lo":-12.1,"hi":4.3},{"t":2007.77,"v":-1.2,"lo":-9.3,"hi":7},{"t":2007.79,"v":9.7,"lo":2.5,"hi":17},{"t":2007.81,"v":15.6,"lo":7.9,"hi":23},{"t":2007.835,"v":15.2,"lo":7,"hi":22.5},{"t":2007.86,"v":6.1,"lo":-1.2,"hi":13.9},{"t":2007.88,"v":-2.1,"lo":-15.3,"hi":6.1},{"t":2007.9,"v":21.2,"lo":12.5,"hi":29.4},{"t":2007.92,"v":15.2,"lo":7,"hi":24.3},{"t":2007.94,"v":16.5,"lo":8.8,"hi":24.3},{"t":2007.955,"v":6.5,"lo":-1.2,"hi":13.4},{"t":2007.98,"v":3.9,"lo":-3.9,"hi":11.6}
]},
"vconcat":[
{"width":1021,"height":367,"data":{"name":"north"},"title":{"text":"CICB","font":"Liberation Sans","fontSize":62,"fontWeight":"normal","anchor":"middle","offset":41,"color":"black"},
"resolve":{"axis":{"x":"independent","y":"independent"}},
"layer":[
{"mark":{"type":"rule","color":"black","strokeWidth":2},"encoding":{"x":{"field":"t","type":"quantitative","scale":{"domain":[1993,2009]},"axis":{"orient":"bottom","values":[1993,1994,1995,1996,1997,1998,1999,2000,2001,2002,2003,2004,2005,2006,2007,2008,2009],"format":"d","tickSize":13,"labelPadding":10,"title":null,"labelFlush":false,"labelOverlap":false}},"y":{"field":"lo","type":"quantitative","scale":{"domain":[-100,100]},"axis":{"orient":"left","values":[-95,-90,-85,-75,-70,-65,-55,-50,-45,-35,-30,-25,-15,-10,-5,5,10,15,25,30,35,45,50,55,65,70,75,85,90,95],"tickSize":8,"labels":false,"title":null}},"y2":{"field":"hi"}}},
{"mark":{"type":"tick","orient":"horizontal","color":"black","size":7,"thickness":2},"encoding":{"x":{"field":"t","type":"quantitative","scale":{"domain":[1993,2009]},"axis":{"orient":"top","values":[1993,1994,1995,1996,1997,1998,1999,2000,2001,2002,2003,2004,2005,2006,2007,2008,2009],"tickSize":13,"labels":false,"title":null}},"y":{"field":"lo","type":"quantitative","scale":{"domain":[-100,100]},"axis":{"orient":"left","values":[-100,-80,-60,-40,-20,0,20,40,60,80,100],"tickSize":15,"labelPadding":13,"labelExpr":"'' + datum.value","title":"North (mm)","titlePadding":12.5,"labelFlush":false,"labelOverlap":false}}}},
{"mark":{"type":"tick","orient":"horizontal","color":"black","size":7,"thickness":2},"encoding":{"x":{"field":"t","type":"quantitative","scale":{"domain":[1993,2009]},"axis":null},"y":{"field":"hi","type":"quantitative","scale":{"domain":[-100,100]},"axis":{"orient":"right","values":[-95,-90,-85,-75,-70,-65,-55,-50,-45,-35,-30,-25,-15,-10,-5,5,10,15,25,30,35,45,50,55,65,70,75,85,90,95],"tickSize":8,"labels":false,"title":null}}}},
{"mark":{"type":"circle","color":"#ff00ff","opacity":1,"size":60},"encoding":{"x":{"field":"t","type":"quantitative","scale":{"domain":[1993,2009]},"axis":null},"y":{"field":"v","type":"quantitative","scale":{"domain":[-100,100]},"axis":{"orient":"right","values":[-100,-80,-60,-40,-20,0,20,40,60,80,100],"tickSize":15,"labels":false,"title":null}}}}
]},
{"width":1021,"height":367,"data":{"name":"east"},
"resolve":{"axis":{"x":"independent","y":"independent"}},
"layer":[
{"mark":{"type":"rule","color":"black","strokeWidth":2},"encoding":{"x":{"field":"t","type":"quantitative","scale":{"domain":[1993,2009]},"axis":{"orient":"bottom","values":[1993,1994,1995,1996,1997,1998,1999,2000,2001,2002,2003,2004,2005,2006,2007,2008,2009],"format":"d","tickSize":13,"labelPadding":10,"title":null,"labelFlush":false,"labelOverlap":false}},"y":{"field":"lo","type":"quantitative","scale":{"domain":[-100,100]},"axis":{"orient":"left","values":[-95,-90,-85,-75,-70,-65,-55,-50,-45,-35,-30,-25,-15,-10,-5,5,10,15,25,30,35,45,50,55,65,70,75,85,90,95],"tickSize":8,"labels":false,"title":null}},"y2":{"field":"hi"}}},
{"mark":{"type":"tick","orient":"horizontal","color":"black","size":7,"thickness":2},"encoding":{"x":{"field":"t","type":"quantitative","scale":{"domain":[1993,2009]},"axis":{"orient":"top","values":[1993,1994,1995,1996,1997,1998,1999,2000,2001,2002,2003,2004,2005,2006,2007,2008,2009],"tickSize":13,"labels":false,"title":null}},"y":{"field":"lo","type":"quantitative","scale":{"domain":[-100,100]},"axis":{"orient":"left","values":[-100,-80,-60,-40,-20,0,20,40,60,80,100],"tickSize":15,"labelPadding":13,"labelExpr":"'' + datum.value","title":"East (mm)","titlePadding":12.5,"labelFlush":false,"labelOverlap":false}}}},
{"mark":{"type":"tick","orient":"horizontal","color":"black","size":7,"thickness":2},"encoding":{"x":{"field":"t","type":"quantitative","scale":{"domain":[1993,2009]},"axis":null},"y":{"field":"hi","type":"quantitative","scale":{"domain":[-100,100]},"axis":{"orient":"right","values":[-95,-90,-85,-75,-70,-65,-55,-50,-45,-35,-30,-25,-15,-10,-5,5,10,15,25,30,35,45,50,55,65,70,75,85,90,95],"tickSize":8,"labels":false,"title":null}}}},
{"mark":{"type":"circle","color":"#ff00ff","opacity":1,"size":60},"encoding":{"x":{"field":"t","type":"quantitative","scale":{"domain":[1993,2009]},"axis":null},"y":{"field":"v","type":"quantitative","scale":{"domain":[-100,100]},"axis":{"orient":"right","values":[-100,-80,-60,-40,-20,0,20,40,60,80,100],"tickSize":15,"labels":false,"title":null}}}}
]},
{"width":1021,"height":367,"data":{"name":"up"},
"resolve":{"axis":{"x":"independent","y":"independent"}},
"layer":[
{"mark":{"type":"rule","color":"black","strokeWidth":2},"encoding":{"x":{"field":"t","type":"quantitative","scale":{"domain":[1993,2009]},"axis":{"orient":"bottom","values":[1993,1994,1995,1996,1997,1998,1999,2000,2001,2002,2003,2004,2005,2006,2007,2008,2009],"format":"d","tickSize":13,"labelPadding":10,"title":null,"labelFlush":false,"labelOverlap":false}},"y":{"field":"lo","type":"quantitative","scale":{"domain":[-100,100]},"axis":{"orient":"left","values":[-95,-90,-85,-75,-70,-65,-55,-50,-45,-35,-30,-25,-15,-10,-5,5,10,15,25,30,35,45,50,55,65,70,75,85,90,95],"tickSize":8,"labels":false,"title":null}},"y2":{"field":"hi"}}},
{"mark":{"type":"tick","orient":"horizontal","color":"black","size":7,"thickness":2},"encoding":{"x":{"field":"t","type":"quantitative","scale":{"domain":[1993,2009]},"axis":{"orient":"top","values":[1993,1994,1995,1996,1997,1998,1999,2000,2001,2002,2003,2004,2005,2006,2007,2008,2009],"tickSize":13,"labels":false,"title":null}},"y":{"field":"lo","type":"quantitative","scale":{"domain":[-100,100]},"axis":{"orient":"left","values":[-100,-80,-60,-40,-20,0,20,40,60,80,100],"tickSize":15,"labelPadding":13,"labelExpr":"'' + datum.value","title":"Up (mm)","titlePadding":12.5,"labelFlush":false,"labelOverlap":false}}}},
{"mark":{"type":"tick","orient":"horizontal","color":"black","size":7,"thickness":2},"encoding":{"x":{"field":"t","type":"quantitative","scale":{"domain":[1993,2009]},"axis":null},"y":{"field":"hi","type":"quantitative","scale":{"domain":[-100,100]},"axis":{"orient":"right","values":[-95,-90,-85,-75,-70,-65,-55,-50,-45,-35,-30,-25,-15,-10,-5,5,10,15,25,30,35,45,50,55,65,70,75,85,90,95],"tickSize":8,"labels":false,"title":null}}}},
{"mark":{"type":"circle","color":"#ff00ff","opacity":1,"size":60},"encoding":{"x":{"field":"t","type":"quantitative","scale":{"domain":[1993,2009]},"axis":null},"y":{"field":"v","type":"quantitative","scale":{"domain":[-100,100]},"axis":{"orient":"right","values":[-100,-80,-60,-40,-20,0,20,40,60,80,100],"tickSize":15,"labels":false,"title":null}}}}
]}
]
}
